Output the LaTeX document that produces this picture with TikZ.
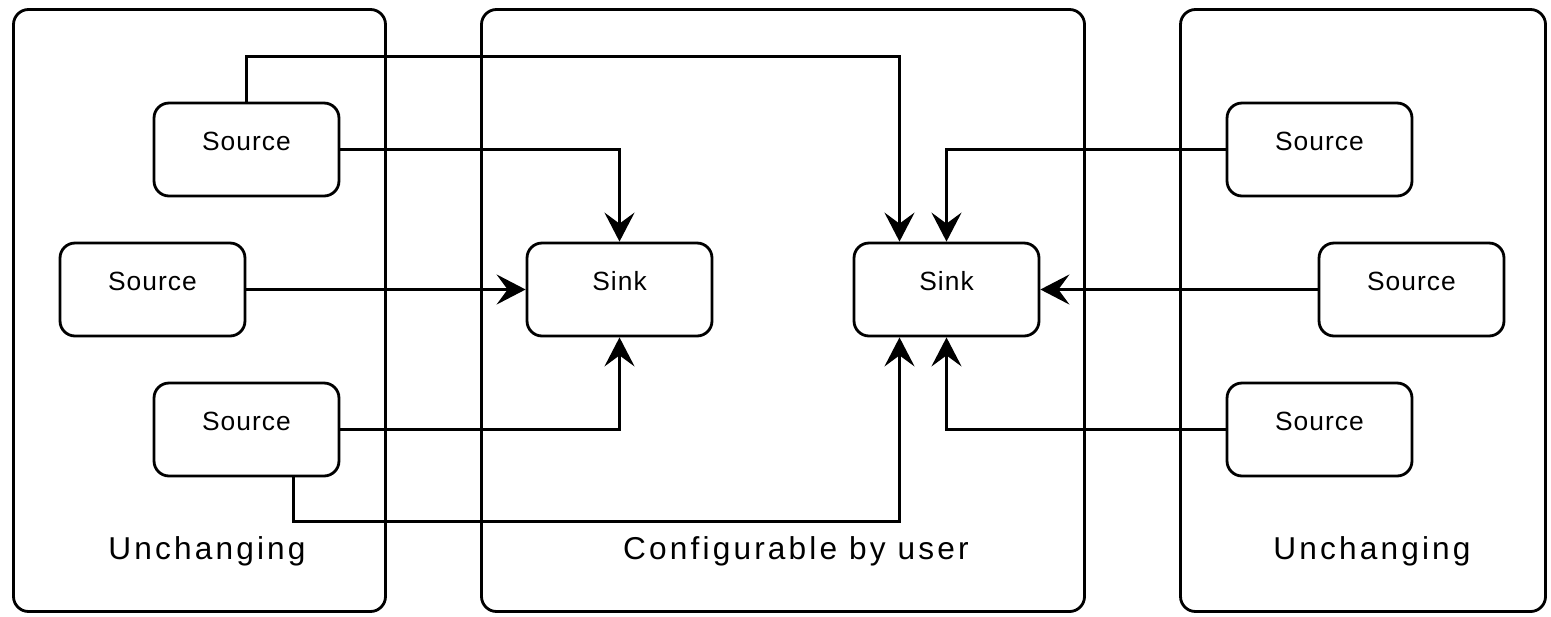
\documentclass[tikz,border=0pt]{standalone}
\usepackage{fontspec}
\setmainfont{Liberation Sans}
\newfontfamily\boxfont[LetterSpace=4]{Liberation Sans}
\newfontfamily\panelfont[LetterSpace=10]{Liberation Sans}
\usetikzlibrary{arrows.meta}
\tikzset{
  panel/.style={draw, line width=1.6pt, rounded corners=0.3cm},
  unit/.style={draw, line width=1.6pt, rounded corners=0.3cm,
    minimum width=3.7cm, minimum height=1.86cm,
    font=\boxfont\fontsize{15}{18}\selectfont,
    text height=11pt, text depth=10.4pt},
  link/.style={line width=1.6pt,
    -{Stealth[length=0.58cm, width=0.6cm, inset=0.22cm]}},
  caption/.style={font=\panelfont\fontsize{18}{22}\selectfont}
}
\begin{document}
\begin{tikzpicture}[x=0.02cm, y=-0.02cm]
    \useasboundingbox (0,0) rectangle (1551,616);
    % the three panels
    \draw[panel] (13.5,9.5) rectangle (385.5,611.5);
    \draw[panel] (481.5,9.5) rectangle (1084.5,611.5);
    \draw[panel] (1180.5,9.5) rectangle (1545.5,611.5);
    \node[caption] (capL) at (207,551) {Unchanging};
    \node[caption] (capM) at (796,551) {Configurable by user};
    \node[caption] (capR) at (1372,551) {Unchanging};
    % sources and sinks
    \node[unit] (ls1) at (246.5,149.5) {Source};
    \node[unit] (ls2) at (152.5,289.5) {Source};
    \node[unit] (ls3) at (246.5,429.5) {Source};
    \node[unit] (lk) at (619.5,289.5) {Sink};
    \node[unit] (rk) at (946.5,289.5) {Sink};
    \node[unit] (rs1) at (1319.5,149.5) {Source};
    \node[unit] (rs2) at (1411.5,289.5) {Source};
    \node[unit] (rs3) at (1319.5,429.5) {Source};
    \coordinate (topbus) at (899.5,56.5);
    \coordinate (botbus) at (899.5,521.5);
    \coordinate (drop) at (293.5,521.5);
    % links
    \draw[link] (ls1.north) |- (topbus) -- (rk.north -| topbus);
    \draw[link] (ls1.east) -| (lk.north);
    \draw[link] (ls2.east) -- (lk.west);
    \draw[link] (ls3.east) -| (lk.south);
    \draw[link] (ls3.south -| drop) -- (drop) -- (botbus)
        -- (rk.south -| botbus);
    \draw[link] (rs1.west) -| (rk.north);
    \draw[link] (rs2.west) -- (rk.east);
    \draw[link] (rs3.west) -| (rk.south);
\end{tikzpicture}
\end{document}
